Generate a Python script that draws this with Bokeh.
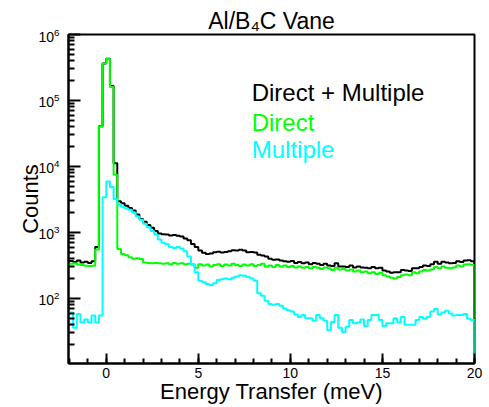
import numpy as np
from bokeh.plotting import figure
from bokeh.models import FixedTicker, Label, Range1d
from bokeh.embed import file_html
from bokeh.resources import INLINE

# Histogram binning (meV): 111 bins of 0.2 meV, first bin starts at -2.2
BIN_LO = -2.2
BIN_WIDTH = 0.2
N_BINS = 111

# Counts per bin, "Direct + Multiple" scattering
direct_plus_multiple = [
    360, 370, 355, 375, 350, 360, 345, 365, 600, 40500,
    365000, 430000, 165000, 11200, 2960, 2770, 2530, 2340, 2140, 1870,
    1600, 1450, 1300, 1180, 1050, 960, 940, 930, 900, 910,
    890, 870, 810, 760, 670, 600, 530, 490, 470, 480,
    500, 510, 495, 505, 520, 535, 530, 545, 530, 500,
    505, 495, 460, 445, 430, 400, 385, 390, 375, 365,
    360, 370, 345, 355, 340, 350, 330, 345, 335, 320,
    335, 315, 310, 340, 305, 305, 300, 315, 295, 305,
    295, 290, 285, 300, 285, 290, 265, 255, 245, 250,
    250, 270, 265, 260, 285, 285, 300, 315, 310, 330,
    360, 335, 360, 350, 340, 345, 365, 355, 375, 380, 365,
]

# Counts per bin, direct scattering only
direct = [
    320, 335, 340, 325, 320, 312, 310, 312, 550, 40400,
    362000, 425000, 160000, 7500, 560, 470, 450, 420, 400, 405,
    395, 350, 345, 340, 345, 340, 335, 340, 330, 345,
    335, 340, 330, 335, 325, 290, 330, 315, 325, 305,
    320, 330, 310, 325, 315, 335, 320, 310, 325, 315,
    330, 310, 320, 335, 305, 315, 300, 320, 305, 315,
    300, 310, 295, 305, 290, 300, 285, 300, 290, 280,
    295, 285, 270, 290, 275, 280, 265, 275, 255, 265,
    250, 255, 240, 250, 235, 245, 225, 215, 205, 200,
    210, 225, 230, 225, 250, 240, 255, 270, 265, 275,
    300, 285, 305, 290, 285, 295, 315, 305, 325, 330, 320,
]

# Counts per bin, multiple scattering only
multiple = [
    60, 61, 36, 58, 43, 48, 43, 55, 43, 55,
    3400, 5900, 4900, 3200, 2700, 2450, 2300, 2200, 2000, 1750,
    1550, 1350, 1200, 1050, 930, 780, 700, 660, 600, 580,
    600, 570, 520, 430, 330, 250, 185, 175, 165, 160,
    170, 190, 195, 200, 195, 205, 215, 225, 220, 210,
    200, 185, 120, 110, 92, 82, 80, 82, 77, 70,
    66, 63, 57, 52, 56, 50, 50, 46, 56, 50,
    46, 33, 44, 56, 36, 31, 37, 47, 42, 43,
    48, 38, 47, 56, 56, 47, 38, 42, 42, 50,
    43, 52, 40, 40, 40, 47, 52, 49, 52, 63,
    69, 57, 61, 65, 59, 55, 56, 56, 58, 49, 47,
]

series = [
    ("Direct + Multiple", direct_plus_multiple, "#000000"),
    ("Direct", direct, "#00ff00"),
    ("Multiple", multiple, "#00ffff"),
]

x_major_ticks = [0, 5, 10, 15, 20]
x_minor_ticks = list(range(-2, 21))
y_major_ticks = [1e2, 1e3, 1e4, 1e5, 1e6]
y_minor_ticks = [m * 10.0 ** d for d in range(1, 6) for m in range(2, 10)]

X_MIN, X_MAX = -2.05, 20.0
Y_MIN, Y_MAX = 10.3, 1e6
FLOOR = 1.0  # below the axis: closes each outline at the right edge

FONT = "Liberation Sans"

p = figure(
    width=489, height=407,
    y_axis_type="log",
    x_range=Range1d(X_MIN, X_MAX), y_range=Range1d(Y_MIN, Y_MAX),
    output_backend="svg", toolbar_location=None,
    min_border_left=68, min_border_right=15,
    min_border_top=34, min_border_bottom=44,
)
p.background_fill_color = "white"
p.border_fill_color = "white"
p.xgrid.visible = False
p.ygrid.visible = False
p.outline_line_color = "black"
p.outline_line_width = 2

# Title
p.title.text = "Al/B\u2084C Vane"
p.title.align = "center"
p.title.text_color = "black"
p.title.text_font = FONT
p.title.text_font_size = "23px"
p.title.text_font_style = "normal"
p.title.standoff = 2
p.title.offset = 0

# Axes
for ax in (p.xaxis[0], p.yaxis[0]):
    ax.axis_line_width = 2
    ax.axis_line_color = "black"
    ax.major_tick_out = 0
    ax.minor_tick_out = 0
    ax.major_tick_line_width = 2
    ax.minor_tick_line_width = 2
    ax.major_tick_line_color = "black"
    ax.minor_tick_line_color = "black"
    ax.major_label_text_font = FONT
    ax.major_label_text_font_size = "14px"
    ax.major_label_text_color = "black"
    ax.axis_label_text_font = FONT
    ax.axis_label_text_font_style = "normal"
    ax.axis_label_text_font_size = "22px"
    ax.axis_label_text_color = "black"

p.xaxis.ticker = FixedTicker(ticks=x_major_ticks, minor_ticks=x_minor_ticks)
p.xaxis.major_tick_in = 10
p.xaxis.minor_tick_in = 5
p.xaxis.major_label_standoff = 4
p.xaxis.axis_label = "Energy Transfer (meV)"
p.xaxis.axis_label_standoff = -2

p.yaxis.ticker = FixedTicker(ticks=y_major_ticks, minor_ticks=y_minor_ticks)
p.yaxis.major_tick_in = 12
p.yaxis.minor_tick_in = 6
p.yaxis.major_label_standoff = 9
p.yaxis.axis_label = "Counts"
p.yaxis.axis_label_standoff = -8

# Histogram outlines
edges = BIN_LO + BIN_WIDTH * np.arange(N_BINS + 1)
xs = list(edges) + [edges[-1]]
for name, counts, color in series:
    ys = list(counts) + [counts[-1], FLOOR]
    p.step(xs, ys, mode="after", line_color=color, line_width=2)

# Coloured text legend
LEGEND_X = 7.9
legend_y = {"Direct + Multiple": 1.3e5, "Direct": 4.6e4, "Multiple": 1.8e4}
for name, counts, color in series:
    p.add_layout(Label(
        x=LEGEND_X, y=legend_y[name], text=name,
        text_color=color, text_font=FONT, text_font_size="24px",
        text_align="left", text_baseline="alphabetic",
    ))

open("out.html", "w").write(file_html(p, INLINE))
